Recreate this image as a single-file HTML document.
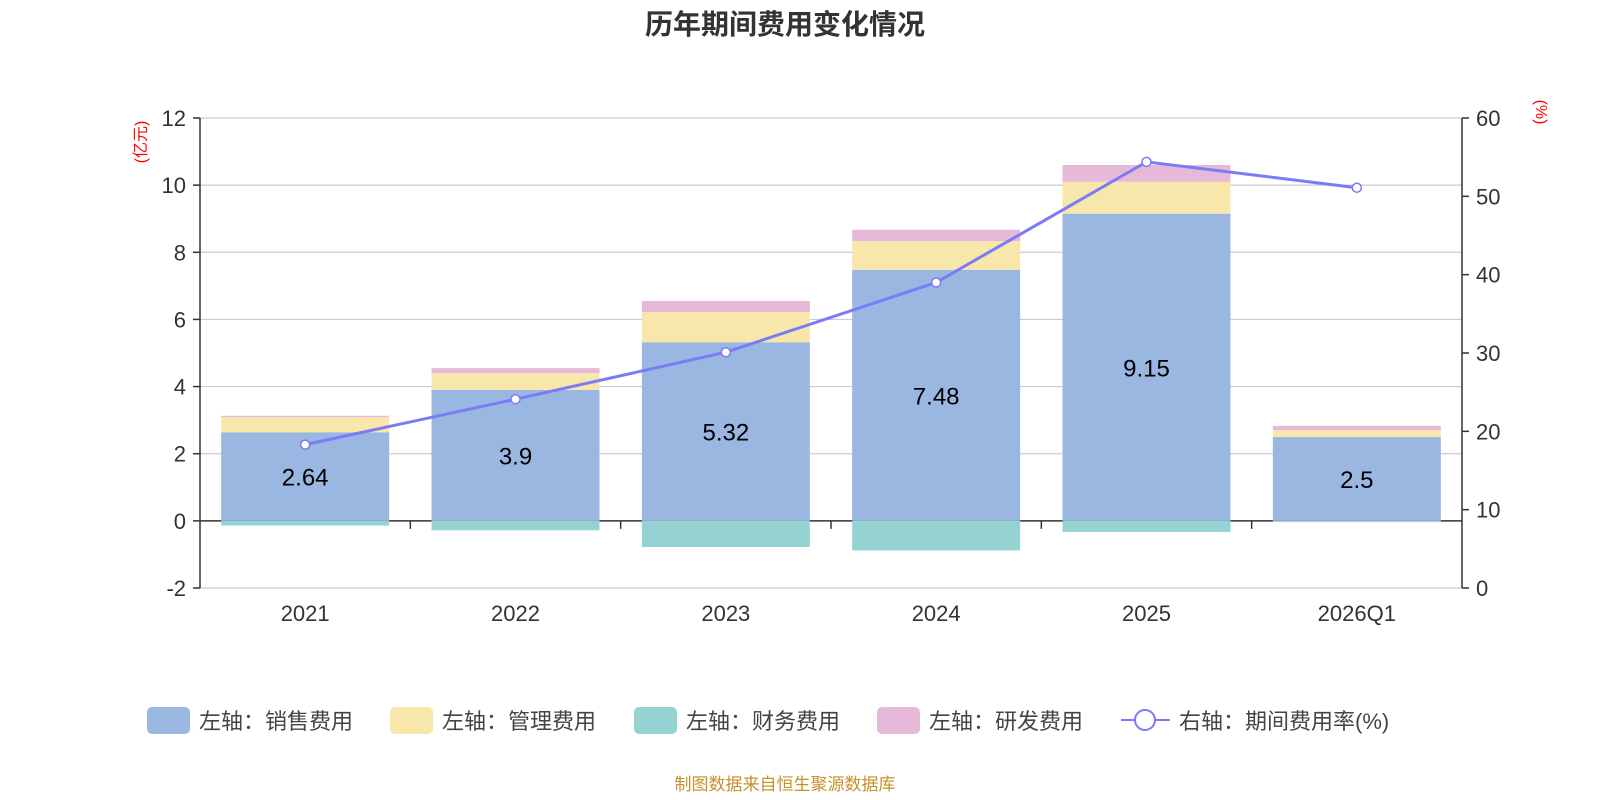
<!DOCTYPE html>
<html><head><meta charset="utf-8"><style>
body{margin:0;background:#fff;}
svg{display:block;font-family:"Liberation Sans","Noto Sans CJK SC",sans-serif;}
</style></head><body>
<svg id="c" width="1600" height="800">
<text x="785" y="34" text-anchor="middle" font-size="28" font-weight="bold" fill="#333">历年期间费用变化情况</text>
<text transform="translate(146,142) rotate(-90)" text-anchor="middle" font-size="16" fill="red">(亿元)</text>
<text transform="translate(1536,112) rotate(90)" text-anchor="middle" font-size="16" fill="red">(%)</text>
<g id="grid"></g><g id="bars"></g><g id="axes"></g><g id="line"></g>
<g id="legend"></g>
<text x="785" y="790" text-anchor="middle" font-size="17" fill="#c8902a">制图数据来自恒生聚源数据库</text>
</svg>
<script>
const categories=["2021","2022","2023","2024","2025","2026Q1"];
const sales=[2.64,3.9,5.32,7.48,9.15,2.5];
const admin=[0.45,0.5,0.9,0.85,0.95,0.2];
const finance=[-0.14,-0.28,-0.78,-0.88,-0.33,-0.02];
const rnd=[0.04,0.15,0.33,0.34,0.5,0.13];
const rate=[18.3,24.1,30.1,39.0,54.4,51.1];
const leftTicks=[-2,0,2,4,6,8,10,12];
const rightTicks=[0,10,20,30,40,50,60];
const NS="http://www.w3.org/2000/svg";
const X0=200,X1=1462,YT=118,YB=588;
const yL=v=>YB-(v+2)/14*(YB-YT);
const yR=v=>YB-v/60*(YB-YT);
const band=(X1-X0)/categories.length;
const xC=i=>X0+band*(i+0.5);
function mk(t,a,p){const e=document.createElementNS(NS,t);for(const k in a)e.setAttribute(k,a[k]);document.getElementById(p).appendChild(e);return e;}
leftTicks.forEach(v=>{
 const g=mk('line',{x1:X0,x2:X1,y1:yL(v),y2:yL(v),stroke:v===0?'#333':'#ccc','stroke-width':v===0?1.5:1.2},'grid');
 
 
 mk('line',{x1:X0-7,x2:X0,y1:yL(v),y2:yL(v),stroke:'#333','stroke-width':1.5},'axes');
 const t=mk('text',{x:X0-14,y:yL(v)+8,'text-anchor':'end','font-size':22,fill:'#333'},'axes');t.textContent=v;
 
 
});
rightTicks.forEach(v=>{
 mk('line',{x1:X1,x2:X1+7,y1:yR(v),y2:yR(v),stroke:'#333','stroke-width':1.5},'axes');
 const t=mk('text',{x:X1+14,y:yR(v)+8,'font-size':22,fill:'#333'},'axes');t.textContent=v;
 
 
});
mk('line',{x1:X0,x2:X0,y1:YT,y2:YB,stroke:'#333','stroke-width':1.5},'axes');
mk('line',{x1:X1,x2:X1,y1:YT,y2:YB,stroke:'#333','stroke-width':1.5},'axes');
const BW=168;
categories.forEach((c,i)=>{
 const x=xC(i)-BW/2;
 const segs=[[0,sales[i],'#9ab7e1','bar-sales'],[sales[i],sales[i]+admin[i],'#f8e7aa','bar-admin'],[sales[i]+admin[i],sales[i]+admin[i]+rnd[i],'#e6b9d9','bar-rnd'],[finance[i],0,'#95d3d3','bar-finance']];
 segs.forEach(s=>{const r=mk('rect',{x:x,y:yL(s[1]),width:BW,height:yL(s[0])-yL(s[1]),fill:s[2]},'bars');
  
  });
 const l=mk('text',{x:xC(i),y:yL(sales[i]/2)+9,'text-anchor':'middle','font-size':24,fill:'#000'},'bars');l.textContent=sales[i];
 
 
 const t=mk('text',{x:xC(i),y:621,'text-anchor':'middle','font-size':22,fill:'#333'},'axes');t.textContent=c;
 
 
 if(i>0)mk('line',{x1:X0+band*i,x2:X0+band*i,y1:yL(0),y2:yL(0)+8,stroke:'#333','stroke-width':1.5},'axes');
});
const pl=mk('polyline',{points:rate.map((v,i)=>xC(i)+','+yR(v)).join(' '),fill:'none',stroke:'#7b7bf5','stroke-width':3},'line');


rate.forEach((v,i)=>{const p=mk('circle',{cx:xC(i),cy:yR(v),r:4.5,fill:'#fff',stroke:'#7b7bf5','stroke-width':1.5},'line');
 
 });
const leg=[["左轴：销售费用","#9ab7e1",147],["左轴：管理费用","#f8e7aa",390],["左轴：财务费用","#95d3d3",634],["左轴：研发费用","#e6b9d9",877]];
leg.forEach(l=>{const r=mk('rect',{x:l[2],y:707,width:43,height:27,rx:5,fill:l[1]},'legend');
 
 
 const t=mk('text',{x:l[2]+52,y:729,'font-size':22,fill:'#444'},'legend');t.textContent=l[0];
 
 });
mk('line',{x1:1121,x2:1170,y1:720,y2:720,stroke:'#7b7bf5','stroke-width':2},'legend');
const lc=mk('circle',{cx:1145,cy:720,r:10,fill:'#fff',stroke:'#7b7bf5','stroke-width':2},'legend');


const lt=mk('text',{x:1179,y:729,'font-size':22,fill:'#444'},'legend');lt.textContent="右轴：期间费用率(%)";


</script>
</body></html>
